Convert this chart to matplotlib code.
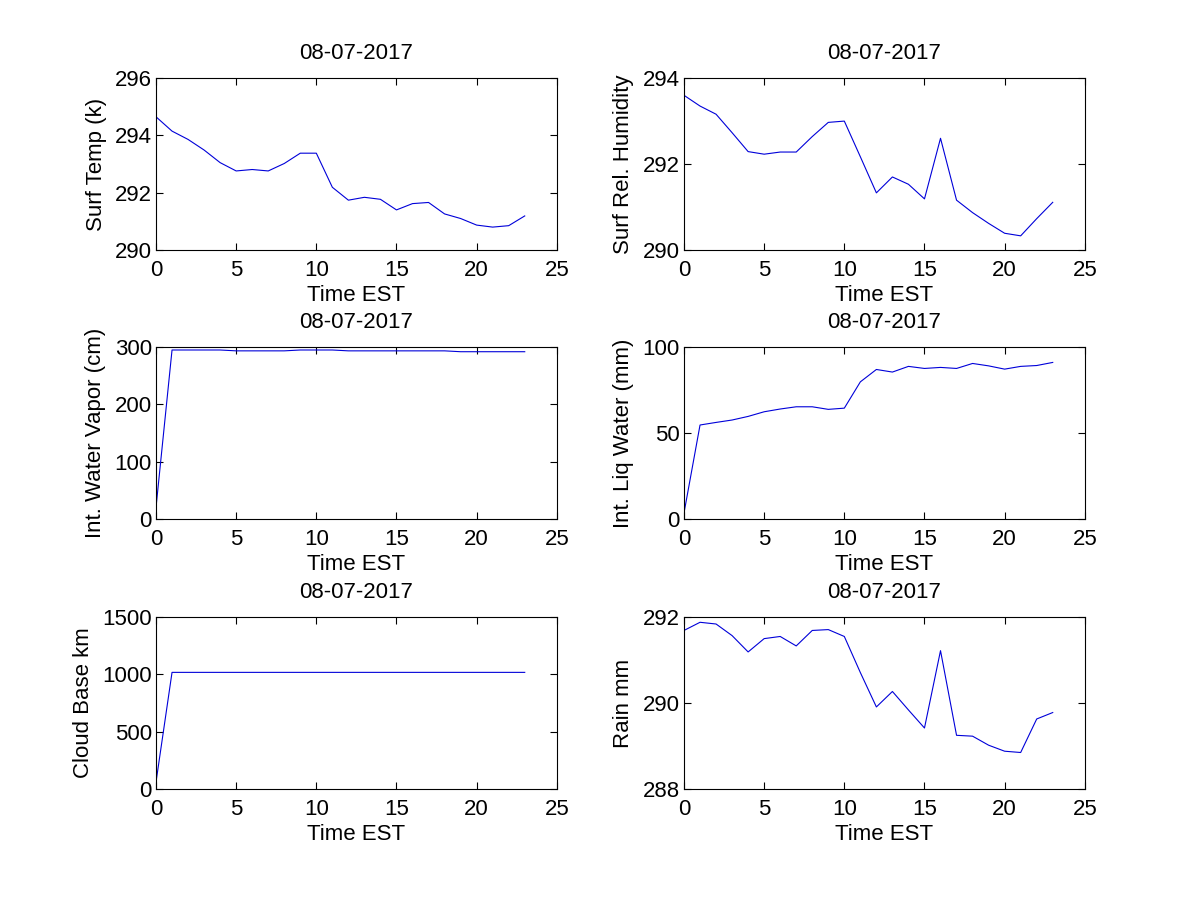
import matplotlib
matplotlib.use("Agg")
import matplotlib.pyplot as plt

hours = list(range(24))
date_title = "08-07-2017"
x_label = "Time EST"

surf_temp = [294.65, 294.15, 293.86, 293.49, 293.05, 292.76, 292.81, 292.76, 293.02, 293.38, 293.38, 292.19,
             291.74, 291.84, 291.77, 291.40, 291.62, 291.66, 291.26, 291.10, 290.87, 290.80, 290.85, 291.19]
surf_rh = [293.60, 293.35, 293.16, 292.73, 292.29, 292.23, 292.28, 292.28, 292.64, 292.97, 293.00, 292.17,
           291.33, 291.70, 291.53, 291.19, 292.60, 291.16, 290.87, 290.62, 290.39, 290.33, 290.73, 291.11]
water_vapor = [20, 295, 295, 295, 295, 293.5, 293.5, 293.5, 293.5, 295, 295, 295,
               293.5, 293.5, 293.5, 293.5, 293.5, 293.5, 293.5, 292, 292, 292, 292, 292]
liq_water = [3.5, 54.7, 56.2, 57.6, 59.7, 62.4, 64.0, 65.3, 65.3, 63.8, 64.5, 79.8,
             87.0, 85.5, 88.8, 87.6, 88.2, 87.6, 90.5, 89.1, 87.2, 88.8, 89.3, 91.1]
cloud_base = [60] + [1018] * 23
rain = [291.69, 291.88, 291.84, 291.57, 291.19, 291.50, 291.55, 291.33, 291.69, 291.71, 291.55, 290.71,
        289.91, 290.27, 289.84, 289.42, 291.22, 289.25, 289.23, 289.02, 288.88, 288.85, 289.63, 289.78]

series = [surf_temp, surf_rh, water_vapor, liq_water, cloud_base, rain]
ylabels = ["Surf Temp (k)", "Surf Rel. Humidity", "Int. Water Vapor (cm)",
           "Int. Liq Water (mm)", "Cloud Base km", "Rain mm"]
ylims = [(290, 296), (290, 294), (0, 300), (0, 100), (0, 1500), (288, 292)]
yticks = [[290, 292, 294, 296], [290, 292, 294], [0, 100, 200, 300],
          [0, 50, 100], [0, 500, 1000, 1500], [288, 290, 292]]
xticks = [0, 5, 10, 15, 20, 25]

plt.rcParams['font.family'] = ['Liberation Sans', 'DejaVu Sans']
fs = 16

fig = plt.figure(figsize=(12, 9), dpi=100)
lefts = [0.13, 0.57]
bottoms = [0.7222, 0.4233, 0.1233]
w, h = 0.334, 0.191

for i in range(6):
    r, c = divmod(i, 2)
    ax = fig.add_axes([lefts[c], bottoms[r], w, h])
    ax.plot(hours, series[i], color=(0, 0, 0.85), linewidth=0.8)
    ax.set_xlim(0, 25)
    ax.set_ylim(*ylims[i])
    ax.set_xticks(xticks)
    ax.set_yticks(yticks[i])
    ax.tick_params(direction='in', top=True, right=True, length=5, width=0.8, labelsize=fs)
    ax.tick_params(axis='x', pad=7)
    ax.tick_params(axis='y', pad=3)
    for s in ax.spines.values():
        s.set_linewidth(0.8)
    ax.set_title(date_title, fontsize=fs, pad=14)
    ax.set_xlabel(x_label, fontsize=fs, labelpad=3)
    ax.set_ylabel(ylabels[i], fontsize=fs, labelpad=6)

fig.savefig("out.png", dpi=100, facecolor='white')
